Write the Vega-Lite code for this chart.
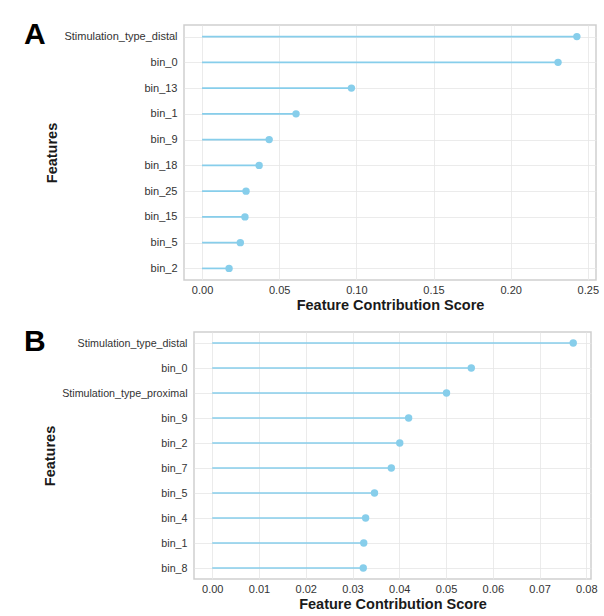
{
  "$schema": "https://vega.github.io/schema/vega-lite/v6.json",
  "padding": {"left": 22, "top": 19, "right": 5, "bottom": 0},
  "spacing": 13,
  "background": "white",
  "datasets": {
    "a": [
      {"feature": "Stimulation_type_distal", "score": 0.2429},
      {"feature": "bin_0", "score": 0.2307},
      {"feature": "bin_13", "score": 0.0968},
      {"feature": "bin_1", "score": 0.0609},
      {"feature": "bin_9", "score": 0.0435},
      {"feature": "bin_18", "score": 0.037},
      {"feature": "bin_25", "score": 0.0285},
      {"feature": "bin_15", "score": 0.0278},
      {"feature": "bin_5", "score": 0.0248},
      {"feature": "bin_2", "score": 0.0175}
    ],
    "b": [
      {"feature": "Stimulation_type_distal", "score": 0.0772},
      {"feature": "bin_0", "score": 0.0554},
      {"feature": "Stimulation_type_proximal", "score": 0.0501},
      {"feature": "bin_9", "score": 0.042},
      {"feature": "bin_2", "score": 0.0401},
      {"feature": "bin_7", "score": 0.0383},
      {"feature": "bin_5", "score": 0.0347},
      {"feature": "bin_4", "score": 0.0328},
      {"feature": "bin_1", "score": 0.0324},
      {"feature": "bin_8", "score": 0.0323}
    ]
  },
  "config": {
    "font": "Liberation Sans",
    "view": {"stroke": "#cfcfcf", "strokeWidth": 1.5},
    "axis": {
      "grid": true,
      "gridColor": "#e6e6e6",
      "gridWidth": 0.8,
      "domain": false,
      "ticks": false,
      "labelFont": "Liberation Sans",
      "labelFontSize": 11,
      "labelColor": "#333333",
      "titleFont": "Liberation Sans",
      "titleFontSize": 14.5,
      "titleFontWeight": "bold",
      "titleColor": "#1a1a1a"
    },
    "axisX": {"labelPadding": 4, "titlePadding": 3},
    "axisY": {"labelPadding": 7, "titlePadding": 4},
    "title": {
      "font": "Liberation Sans",
      "fontSize": 30,
      "fontWeight": "bold",
      "color": "#000000",
      "anchor": "start",
      "frame": "group",
      "baseline": "top",
      "offset": -25
    }
  },
  "vconcat": [
    {
      "spacing": 0,
      "hconcat": [
        {
          "width": 1,
          "height": 1,
          "view": {"stroke": null},
          "data": {"values": []},
          "mark": "point"
        },
        {
          "title": {"text": "A", "dx": -160},
          "width": 412,
          "height": 255,
          "data": {"name": "a"},
          "encoding": {
            "y": {
              "field": "feature",
              "type": "nominal",
              "sort": null,
              "scale": {"type": "point", "padding": 0.45},
              "title": "Features"
            }
          },
          "layer": [
            {
              "mark": {"type": "rule", "color": "#87CEEB", "strokeWidth": 1.7},
              "encoding": {
                "x": {
                  "field": "score",
                  "type": "quantitative",
                  "scale": {"domain": [-0.0117, 0.2553], "nice": false, "zero": false},
                  "axis": {"values": [0, 0.05, 0.1, 0.15, 0.2, 0.25], "format": ".2f"},
                  "title": "Feature Contribution Score"
                },
                "x2": {"datum": 0}
              }
            },
            {
              "mark": {"type": "point", "filled": true, "color": "#87CEEB", "size": 55, "opacity": 1},
              "encoding": {
                "x": {"field": "score", "type": "quantitative"}
              }
            }
          ]
        }
      ]
    },
    {
      "spacing": 0,
      "hconcat": [
        {
          "width": 1,
          "height": 1,
          "view": {"stroke": null},
          "data": {"values": []},
          "mark": "point"
        },
        {
          "title": {"text": "B", "dx": -170},
          "width": 397,
          "height": 247,
          "data": {"name": "b"},
          "encoding": {
            "y": {
              "field": "feature",
              "type": "nominal",
              "sort": null,
              "scale": {"type": "point", "padding": 0.44},
              "title": "Features",
              "axis": {"labelFontSize": 10.7}
            }
          },
          "layer": [
            {
              "mark": {"type": "rule", "color": "#87CEEB", "strokeWidth": 1.7},
              "encoding": {
                "x": {
                  "field": "score",
                  "type": "quantitative",
                  "scale": {"domain": [-0.0039, 0.081], "nice": false, "zero": false},
                  "axis": {"values": [0, 0.01, 0.02, 0.03, 0.04, 0.05, 0.06, 0.07, 0.08], "format": ".2f"},
                  "title": "Feature Contribution Score"
                },
                "x2": {"datum": 0}
              }
            },
            {
              "mark": {"type": "point", "filled": true, "color": "#87CEEB", "size": 55, "opacity": 1},
              "encoding": {
                "x": {"field": "score", "type": "quantitative"}
              }
            }
          ]
        }
      ]
    }
  ]
}
